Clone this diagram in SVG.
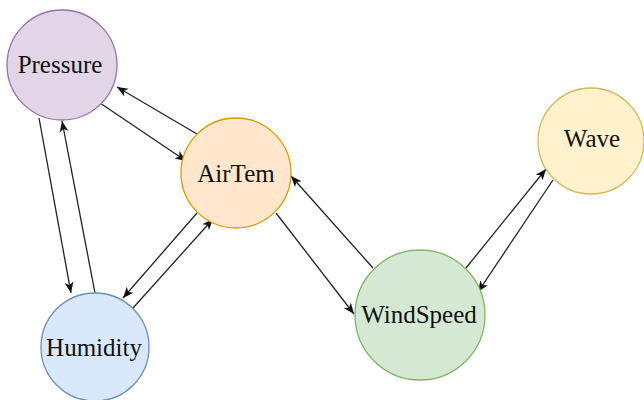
<svg xmlns="http://www.w3.org/2000/svg" width="644" height="400" viewBox="0 0 644 400">
<style>
.lbl{font-family:"Liberation Serif","Times New Roman",serif;font-size:25px;fill:#111;text-anchor:middle}
.edge{stroke:#222;stroke-width:1.3;fill:none;marker-end:url(#arr)}
</style>
<defs>
<marker id="arr" markerUnits="userSpaceOnUse" markerWidth="12" markerHeight="10" viewBox="0 0 12 10" refX="11" refY="5" orient="auto">
<path d="M0,0.5 L11,5 L0,9.5 L3,5 Z" fill="#111"/>
</marker>
</defs>
<rect width="644" height="400" fill="#ffffff"/>
<g id="connectors">
<line class="edge" x1="100" y1="103" x2="186" y2="161"/>
<line class="edge" x1="197" y1="134" x2="117" y2="87"/>
<line class="edge" x1="39" y1="118" x2="71" y2="293"/>
<line class="edge" x1="95" y1="293" x2="62" y2="121"/>
<line class="edge" x1="197" y1="213" x2="123" y2="298"/>
<line class="edge" x1="133" y1="308" x2="213" y2="219"/>
<line class="edge" x1="373" y1="268" x2="291" y2="176"/>
<line class="edge" x1="276" y1="213" x2="354" y2="314"/>
<line class="edge" x1="466" y1="268" x2="546" y2="169"/>
<line class="edge" x1="553" y1="180" x2="478" y2="292"/>
</g>
<g id="Pressure">
<circle cx="62" cy="65" r="55" fill="#e1d5e7" stroke="#9673a6" stroke-width="1.3"/>
<text class="lbl" x="60" y="73">Pressure</text>
</g>
<g id="AirTem">
<circle cx="236" cy="173" r="55" fill="#ffe6cc" stroke="#d79b00" stroke-width="1.3"/>
<text class="lbl" x="236" y="182">AirTem</text>
</g>
<g id="Humidity">
<circle cx="95" cy="347" r="54" fill="#dae8fc" stroke="#6c8ebf" stroke-width="1.3"/>
<text class="lbl" x="94" y="356">Humidity</text>
</g>
<g id="WindSpeed">
<circle cx="420" cy="315" r="65" fill="#d5e8d4" stroke="#82b366" stroke-width="1.3"/>
<text class="lbl" x="419" y="323">WindSpeed</text>
</g>
<g id="Wave">
<circle cx="591" cy="141" r="53" fill="#fff2cc" stroke="#d6b656" stroke-width="1.3"/>
<text class="lbl" x="592" y="147">Wave</text>
</g>
</svg>
